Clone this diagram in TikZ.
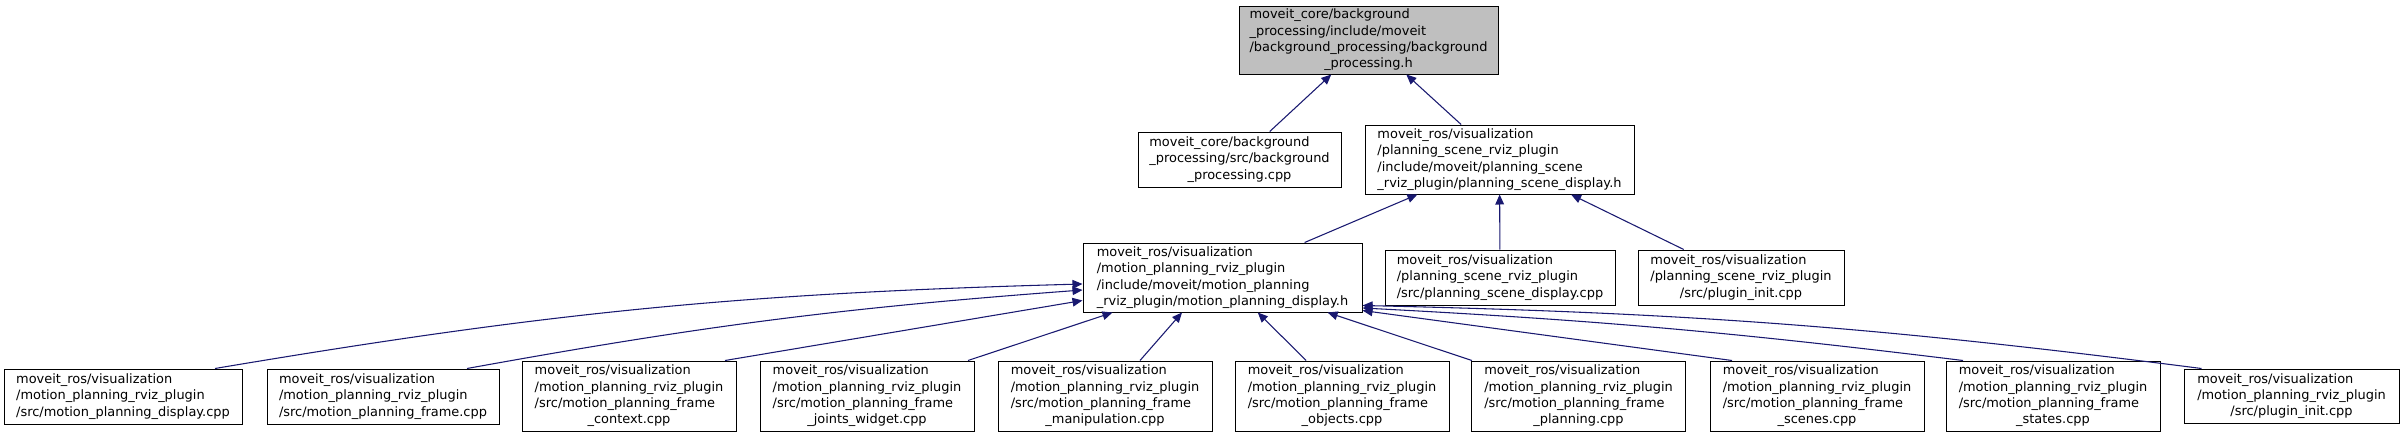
\documentclass[tikz,border=0pt]{standalone}
\usepackage{fontspec}
\setmainfont{DejaVu Sans}
\usetikzlibrary{arrows.meta,calc}
\definecolor{edgeblue}{HTML}{191970}
\definecolor{rootgray}{HTML}{BFBFBF}
\newcommand{\lastln}[1]{\hfill#1\hfill\mbox{}}

\begin{document}
\begin{tikzpicture}[x=0.75pt, y=0.75pt,
  filebox/.style={draw=black, line width=0.75pt, fill=white, align=left, inner sep=0pt,
    font=\fontsize{9.7}{12.2}\selectfont, minimum height=41.25pt},
  tallbox/.style={filebox, minimum height=52.5pt, minimum width=160.5pt},
  dep/.style={draw=edgeblue, line width=0.8pt, -{Triangle[length=7.5pt, width=6.5pt]}}]

\useasboundingbox (0,0) rectangle (2403,437);

% headers
\node[filebox, fill=rootgray, minimum width=194.25pt, minimum height=51pt] (root) at (1368.5,397)
  {moveit\_core/background\\\_processing/include/moveit\\/background\_processing/background\\\lastln{\_processing.h}};
\node[filebox, minimum width=152.25pt] (bgcpp) at (1239.5,277.5)
  {moveit\_core/background\\\_processing/src/background\\\lastln{\_processing.cpp}};
\node[filebox, minimum width=201.75pt, minimum height=51.75pt] (psdh) at (1499.5,277.5)
  {moveit\_ros/visualization\\/planning\_scene\_rviz\_plugin\\/include/moveit/planning\_scene\\\_rviz\_plugin/planning\_scene\_display.h};
\node[filebox, minimum width=209.25pt, minimum height=51.75pt] (mpdh) at (1222.5,159.5)
  {moveit\_ros/visualization\\/motion\_planning\_rviz\_plugin\\/include/moveit/motion\_planning\\\_rviz\_plugin/motion\_planning\_display.h};
\node[filebox, minimum width=172.5pt] (psdcpp) at (1500,159.5)
  {moveit\_ros/visualization\\/planning\_scene\_rviz\_plugin\\/src/planning\_scene\_display.cpp};
\node[filebox, minimum width=154.5pt] (psinit) at (1741,159.5)
  {moveit\_ros/visualization\\/planning\_scene\_rviz\_plugin\\\lastln{/src/plugin\_init.cpp}};

% sources of the motion planning plugin
\node[filebox, minimum width=178.5pt] (display) at (123,40.5)
  {moveit\_ros/visualization\\/motion\_planning\_rviz\_plugin\\/src/motion\_planning\_display.cpp};
\node[filebox, minimum width=174pt] (frame) at (383,40.5)
  {moveit\_ros/visualization\\/motion\_planning\_rviz\_plugin\\/src/motion\_planning\_frame.cpp};
\node[tallbox] (context) at (629,41)
  {moveit\_ros/visualization\\/motion\_planning\_rviz\_plugin\\/src/motion\_planning\_frame\\\lastln{\_context.cpp}};
\node[tallbox] (joints) at (867,41)
  {moveit\_ros/visualization\\/motion\_planning\_rviz\_plugin\\/src/motion\_planning\_frame\\\lastln{\_joints\_widget.cpp}};
\node[tallbox] (manip) at (1105,41)
  {moveit\_ros/visualization\\/motion\_planning\_rviz\_plugin\\/src/motion\_planning\_frame\\\lastln{\_manipulation.cpp}};
\node[tallbox] (objects) at (1342,41)
  {moveit\_ros/visualization\\/motion\_planning\_rviz\_plugin\\/src/motion\_planning\_frame\\\lastln{\_objects.cpp}};
\node[tallbox] (planning) at (1578.5,41)
  {moveit\_ros/visualization\\/motion\_planning\_rviz\_plugin\\/src/motion\_planning\_frame\\\lastln{\_planning.cpp}};
\node[tallbox] (scenes) at (1817,41)
  {moveit\_ros/visualization\\/motion\_planning\_rviz\_plugin\\/src/motion\_planning\_frame\\\lastln{\_scenes.cpp}};
\node[tallbox] (states) at (2053,41)
  {moveit\_ros/visualization\\/motion\_planning\_rviz\_plugin\\/src/motion\_planning\_frame\\\lastln{\_states.cpp}};
\node[filebox, minimum width=161.25pt, minimum height=40.5pt] (mpinit) at (2291.5,41)
  {moveit\_ros/visualization\\/motion\_planning\_rviz\_plugin\\\lastln{/src/plugin\_init.cpp}};

% includes, upper part
\draw[dep] (bgcpp) -- (root);
\draw[dep] (psdh) -- (root);
\draw[dep] (mpdh) -- (psdh);
\draw[dep] (psdcpp) -- (psdh);
\draw[dep] (psinit) -- (psdh);

% includes of motion_planning_display.h
\draw[dep] ($(display.north)+(92,0)$) to[bend left=4] ($(mpdh.west)+(0,-6.5)$);
\draw[dep] ($(frame.north)+(84,0)$) to[bend left=3] ($(mpdh.west)+(0,-12.5)$);
\draw[dep] ($(context.north)+(96,0)$) -- ($(mpdh.west)+(0,-23)$);
\draw[dep] ($(joints.north)+(101,0)$) -- ($(mpdh.south west)+(30,0)$);
\draw[dep] ($(manip.north)+(35,0)$) -- ($(mpdh.south)+(-40.5,0)$);
\draw[dep] (objects) -- (mpdh);
\draw[dep] (planning) -- (mpdh);
\draw[dep] ($(scenes.north)+(-85,0)$) -- ($(mpdh.south east)+(0,2)$);
\draw[dep] ($(states.north)+(-90,0)$) to[bend right=2] ($(mpdh.south east)+(0,4.5)$);
\draw[dep] ($(mpinit.north)+(-90,0)$) to[bend right=3] ($(mpdh.south east)+(0,7)$);

\end{tikzpicture}
\end{document}
